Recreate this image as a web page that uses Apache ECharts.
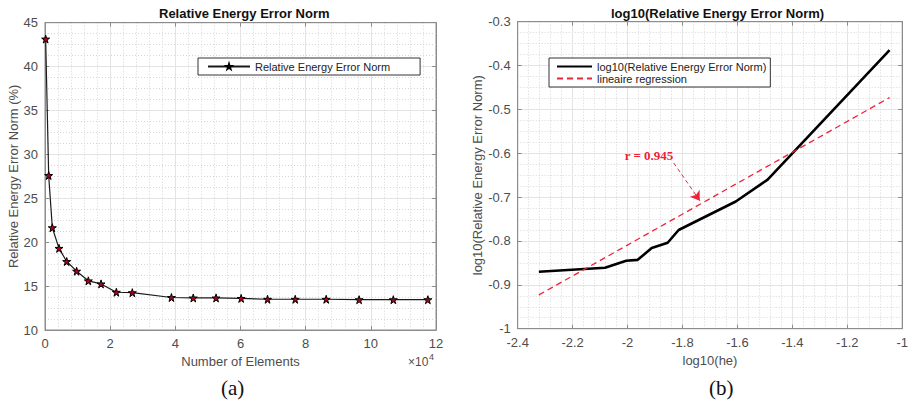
<!DOCTYPE html>
<html>
<head>
<meta charset="utf-8">
<script src="https://cdn.jsdelivr.net/npm/echarts@6/dist/echarts.min.js"></script>
<style>
  html, body { margin: 0; padding: 0; background: #fff; }
  #root { width: 911px; height: 405px; }
</style>
</head>
<body>
<div id="root"></div>
<script>
// (a) error norm vs number of elements
const elements = [200, 1130, 2250, 4300, 6660, 9700, 13300, 17200, 21900, 26800,
  38800, 45500, 52500, 60200, 68300, 76800, 86300, 96400, 106900, 117500];
const errorNorm = [43.14, 27.6, 21.65, 19.3, 17.8, 16.7, 15.6, 15.25, 14.3, 14.25,
  13.7, 13.65, 13.65, 13.6, 13.5, 13.5, 13.5, 13.45, 13.45, 13.45];

// (b) log-log plot
const logHe = [-2.323, -2.082, -2.005, -1.963, -1.912, -1.854, -1.814, -1.606, -1.49, -1.046];
const logErr = [-0.870, -0.861, -0.845, -0.843, -0.816, -0.804, -0.775, -0.710, -0.660, -0.365];
const regX = [-2.323, -1.046];
const regY = [-0.923, -0.473];
const rText = "r = 0.945";

const starPath = "path://M50,0 L61,35 L98,35 L68,57 L79,91 L50,70 L21,91 L32,57 L2,35 L39,35 Z";
const red = "#ee2238";
const axisColor = "#8c8c8c";
const labelColor = "#4d4d4d";
const font = "Liberation Sans, Arial, sans-serif";

const zip = (xs, ys) => xs.map((x, i) => [x, ys[i]]);

function mainAxis(extra) {
  return Object.assign({
    type: "value",
    axisLine: { show: true, onZero: false, lineStyle: { color: axisColor } },
    axisTick: { show: true, inside: true, length: 4, lineStyle: { color: axisColor } },
    axisLabel: { color: labelColor, fontSize: 13, fontFamily: font },
    splitLine: { show: true, lineStyle: { color: "#e4e4e4", width: 1 } },
    minorTick: { show: false, splitNumber: 5 },
    minorSplitLine: { show: true, lineStyle: { color: "#d6d6d6", type: [1, 2], width: 1 } },
    nameTextStyle: { color: labelColor, fontSize: 13, fontFamily: font },
  }, extra);
}

function mirrorAxis(extra) {
  return Object.assign({
    type: "value",
    axisLine: { show: true, onZero: false, lineStyle: { color: axisColor } },
    axisTick: { show: true, inside: true, length: 4, lineStyle: { color: axisColor } },
    axisLabel: { show: false },
    splitLine: { show: false },
  }, extra);
}

const chart = echarts.init(document.getElementById("root"), null, { renderer: "svg" });

const option = {
  animation: false,
  backgroundColor: "#fff",
  title: [
    { text: "Relative Energy Error Norm", left: 154, top: 2,
      textStyle: { fontSize: 13, fontWeight: "bold", color: "#111", fontFamily: font } },
    { text: "log10(Relative Energy Error Norm)", left: 606, top: 2,
      textStyle: { fontSize: 13, fontWeight: "bold", color: "#111", fontFamily: font } },
  ],
  legend: [
    {
      data: ["Relative Energy Error Norm"],
      left: 198, top: 58, orient: "vertical",
      itemWidth: 42, itemHeight: 6, itemGap: 1,
      padding: [3, 30, 3, 9],
      backgroundColor: "#fff", borderColor: "#333", borderWidth: 1, borderRadius: 0,
      selectedMode: false,
      textStyle: { fontSize: 11, color: "#222", fontFamily: font },
    },
    {
      data: ["log10(Relative Energy Error Norm)", "lineaire regression"],
      left: 549, top: 58, orient: "vertical",
      itemWidth: 35, itemHeight: 8, itemGap: 1,
      padding: [3, 4, 3, 7],
      itemStyle: { opacity: 0 },
      backgroundColor: "#fff", borderColor: "#333", borderWidth: 1, borderRadius: 0,
      selectedMode: false,
      textStyle: { fontSize: 11, color: "#222", fontFamily: font },
    },
  ],
  grid: [
    { left: 45, right: 475, top: 22.7, bottom: 75, show: true, borderColor: axisColor, borderWidth: 1 },
    { left: 517.7, right: 2, top: 21.7, bottom: 76.3, show: true, borderColor: axisColor, borderWidth: 1 },
  ],
  xAxis: [
    mainAxis({
      gridIndex: 0, min: 0, max: 120000, interval: 20000,
      axisLabel: { color: labelColor, fontSize: 13, fontFamily: font, margin: 7,
        formatter: (v) => String(v / 10000) },
      name: "Number of Elements", nameLocation: "middle", nameGap: 25,
    }),
    mainAxis({
      gridIndex: 1, min: -2.4, max: -1, interval: 0.2,
      axisLabel: { color: labelColor, fontSize: 13, fontFamily: font, margin: 7 },
      name: "log10(he)", nameLocation: "middle", nameGap: 25,
    }),
    mirrorAxis({ gridIndex: 0, position: "top", min: 0, max: 120000, interval: 20000 }),
    mirrorAxis({ gridIndex: 1, position: "top", min: -2.4, max: -1, interval: 0.2 }),
  ],
  yAxis: [
    mainAxis({
      gridIndex: 0, min: 10, max: 45, interval: 5,
      minorTick: { show: false, splitNumber: 4 },
      axisLabel: { color: labelColor, fontSize: 13, fontFamily: font, margin: 7 },
      name: "Relative Energy Error Norm (%)", nameLocation: "middle", nameGap: 23,
    }),
    mainAxis({
      gridIndex: 1, min: -1, max: -0.3, interval: 0.1,
      minorTick: { show: false, splitNumber: 4 },
      axisLabel: { color: labelColor, fontSize: 13, fontFamily: font, margin: 7 },
      name: "log10(Relative Energy Error Norm)", nameLocation: "middle", nameGap: 31,
    }),
    mirrorAxis({ gridIndex: 0, position: "right", min: 10, max: 45, interval: 5 }),
    mirrorAxis({ gridIndex: 1, position: "right", min: -1, max: -0.3, interval: 0.1 }),
  ],
  series: [
    {
      name: "Relative Energy Error Norm",
      type: "line",
      xAxisIndex: 0, yAxisIndex: 0,
      data: zip(elements, errorNorm),
      symbol: starPath,
      symbolSize: 8,
      itemStyle: { color: "#b0001c", borderColor: "#000", borderWidth: 1 },
      lineStyle: { color: "#1a1a1a", width: 1.2 },
    },
    {
      name: "log10(Relative Energy Error Norm)",
      type: "line",
      xAxisIndex: 1, yAxisIndex: 1,
      data: zip(logHe, logErr),
      symbol: "none",
      itemStyle: { color: "#000" },
      lineStyle: { color: "#000", width: 2.6 },
    },
    {
      name: "lineaire regression",
      type: "line",
      xAxisIndex: 1, yAxisIndex: 1,
      data: zip(regX, regY),
      symbol: "none",
      itemStyle: { color: red },
      lineStyle: { color: red, width: 1.3, type: [6, 4] },
      markLine: {
        silent: true,
        symbol: ["none", "arrow"],
        symbolSize: 9,
        label: { show: false },
        lineStyle: { color: red, width: 1, type: [4, 3] },
        data: [[{ coord: [-1.832, -0.622] }, { coord: [-1.737, -0.708] }]],
      },
      markPoint: {
        silent: true,
        symbol: "circle",
        symbolSize: 1,
        itemStyle: { color: "rgba(0,0,0,0)" },
        label: {
          show: true, position: "inside", formatter: rText,
          color: red, fontWeight: "bold", fontSize: 13,
          fontFamily: "Liberation Serif, Times New Roman, serif",
        },
        data: [{ coord: [-1.922, -0.604] }],
      },
    },
  ],
  graphic: [
    { type: "text", left: 408, top: 356,
      style: { text: "×10", fontSize: 12, fill: labelColor, fontFamily: font } },
    { type: "text", left: 429, top: 352,
      style: { text: "4", fontSize: 9, fill: labelColor, fontFamily: font } },
    { type: "text", left: 221, top: 377,
      style: { text: "(a)", fontSize: 21, fill: "#111", fontFamily: "Liberation Serif, Times New Roman, serif" } },
    { type: "text", left: 709, top: 377,
      style: { text: "(b)", fontSize: 21, fill: "#111", fontFamily: "Liberation Serif, Times New Roman, serif" } },
  ],
};

chart.setOption(option);
</script>
</body>
</html>
